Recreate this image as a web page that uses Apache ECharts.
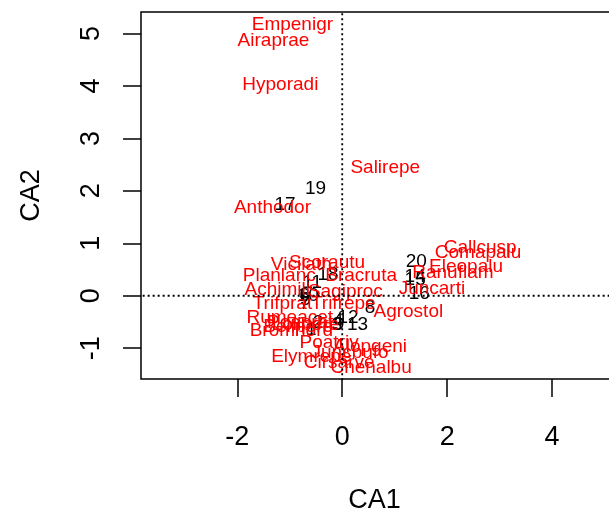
<!DOCTYPE html>
<html>
<head>
<meta charset="utf-8">
<script src="https://cdn.jsdelivr.net/npm/echarts@6/dist/echarts.min.js"></script>
<style>html,body{margin:0;padding:0;background:#fff}#c{width:609px;height:511px}</style>
</head>
<body>
<div id="c"></div>
<script>
var siteNames = ['1','2','3','4','5','6','7','8','9','10','11','12','13','14','15','16','17','18','19','20'];
var siteCA1 = [-0.59,-0.46,-0.10,-0.08,-0.70,-0.72,-0.72,0.53,-0.06,-0.65,-0.57,0.11,0.29,1.39,1.39,1.47,-1.09,-0.27,-0.51,1.41];
var siteCA2 = [-0.65,-0.51,-0.55,-0.48,-0.08,0.00,-0.15,-0.23,-0.55,0.00,0.25,-0.42,-0.55,0.36,0.30,0.04,1.73,0.40,2.04,0.65];

var speciesNames = ['Achimill','Agrostol','Airaprae','Alopgeni','Anthodor','Bellpere','Bromhord','Chenalbu','Cirsarve','Comapalu','Eleopalu','Elymrepe','Empenigr','Hyporadi','Juncarti','Juncbufo','Lolipere','Planlanc','Poaprat','Poatriv','Ranuflam','Rumeacet','Sagiproc','Salirepe','Scorautu','Trifprat','Trifrepe','Vicilath','Bracruta','Callcusp'];
var speciesCA1 = [-1.24,1.26,-1.31,0.53,-1.33,-0.84,-0.97,0.55,-0.06,2.59,2.36,-0.59,-0.95,-1.18,1.71,0.15,-0.70,-1.20,-0.80,-0.25,2.11,-1.00,0.06,0.82,-0.29,-1.14,0.02,-0.78,0.36,2.63];
var speciesCA2 = [0.11,-0.30,4.86,-0.97,1.68,-0.59,-0.67,-1.37,-1.28,0.82,0.55,-1.16,5.16,4.02,0.13,-1.09,-0.55,0.38,-0.51,-0.90,0.44,-0.42,0.08,2.44,0.63,-0.15,-0.15,0.59,0.38,0.91];

var xTicks = [-2, 0, 2, 4];
var yTicks = [-1, 0, 1, 2, 3, 4, 5];

var FONT = 'Liberation Sans, Arial, sans-serif';

function pts(names, xs, ys) {
  return names.map(function (n, i) { return { name: n, value: [xs[i], ys[i]] }; });
}

var chart = echarts.init(document.getElementById('c'), null, { renderer: 'canvas' });
chart.setOption({
  animation: false,
  grid: { left: 141, top: 12, height: 367, width: 495, outerBoundsMode: 'none', containLabel: false, show: true, borderColor: '#000', borderWidth: 1.5, backgroundColor: 'transparent' },
  xAxis: {
    type: 'value', min: -3.836, max: 5.6,
    splitLine: { show: false },
    axisLine: { show: false, onZero: false },
    axisTick: { show: true, inside: false, length: 18, lineStyle: { color: '#000', width: 1.5 }, customValues: xTicks },
    axisLabel: { color: '#000', fontSize: 27, fontFamily: FONT, margin: 45, customValues: xTicks },
    name: 'CA1', nameLocation: 'middle', nameGap: 108,
    nameTextStyle: { color: '#000', fontSize: 27, fontFamily: FONT, padding: [0, 28, 0, 0] }
  },
  yAxis: {
    type: 'value', min: -1.587, max: 5.41,
    splitLine: { show: false },
    axisLine: { show: false, onZero: false },
    axisTick: { show: true, inside: false, length: 18, lineStyle: { color: '#000', width: 1.5 }, customValues: yTicks },
    axisLabel: { color: '#000', fontSize: 27, fontFamily: FONT, margin: 36, rotate: 90, customValues: yTicks },
    name: 'CA2', nameLocation: 'middle', nameGap: 96,
    nameTextStyle: { color: '#000', fontSize: 27, fontFamily: FONT }
  },
  series: [
    {
      type: 'line', silent: true, symbol: 'none',
      data: [[0, -10], [0, 10]],
      lineStyle: { color: '#000', width: 1.8, type: [2, 3] }
    },
    {
      type: 'line', silent: true, symbol: 'none',
      data: [[-10, 0], [10, 0]],
      lineStyle: { color: '#000', width: 1.8, type: [2, 3] }
    },
    {
      type: 'scatter', symbolSize: 1, itemStyle: { color: 'rgba(0,0,0,0)', opacity: 1 },
      data: pts(siteNames, siteCA1, siteCA2),
      label: { show: true, position: 'inside', formatter: '{b}', color: '#000', fontSize: 19, fontFamily: FONT }
    },
    {
      type: 'scatter', symbolSize: 1, itemStyle: { color: 'rgba(0,0,0,0)', opacity: 1 },
      data: pts(speciesNames, speciesCA1, speciesCA2),
      label: { show: true, position: 'inside', formatter: '{b}', color: '#ff0000', fontSize: 19, fontFamily: FONT }
    }
  ]
});
</script>
</body>
</html>
